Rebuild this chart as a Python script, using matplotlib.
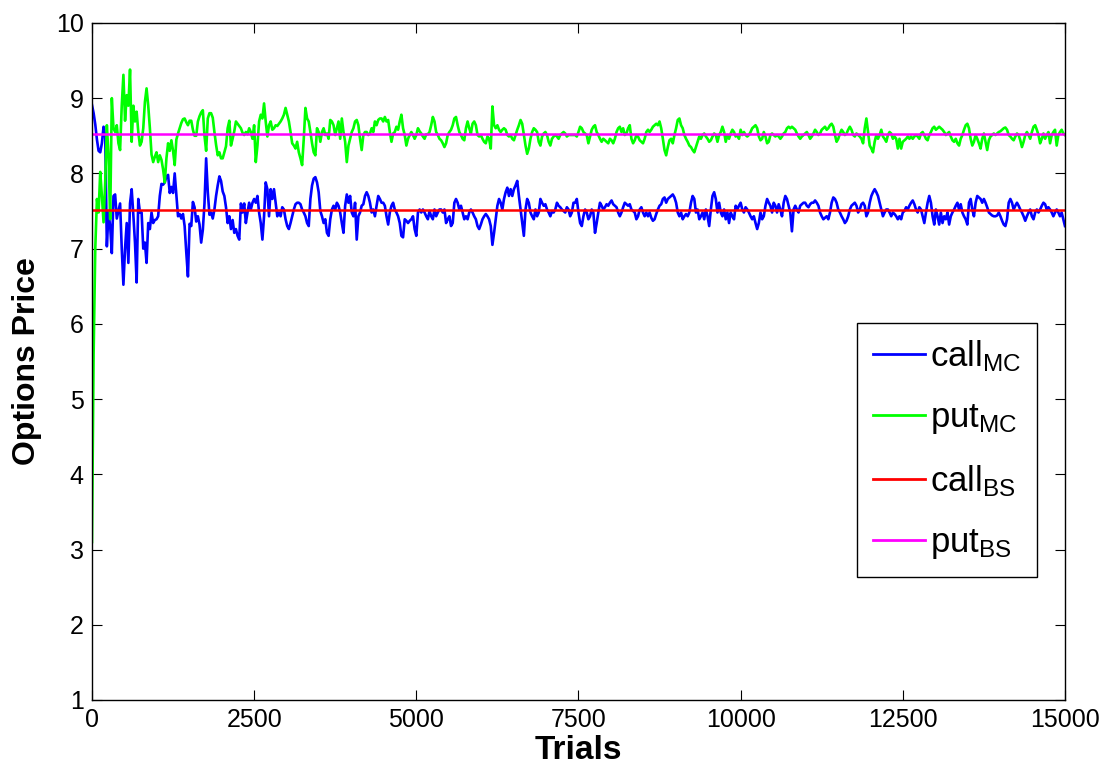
import numpy as np
import matplotlib
matplotlib.use("Agg")
import matplotlib.pyplot as plt

plt.rcParams['font.family'] = ['Liberation Sans', 'DejaVu Sans']
plt.rcParams['mathtext.fontset'] = 'custom'
plt.rcParams['mathtext.rm'] = 'Liberation Sans'
plt.rcParams['mathtext.it'] = 'Liberation Sans'

# Monte Carlo put estimates (sampled evenly over 0..15000 trials)
put_mc = [
    3.10, 5.60, 7.00, 7.66, 7.48, 8.02, 7.70, 7.35, 7.88, 8.64,
    8.24, 7.39, 9.00, 8.60, 8.55, 8.64, 8.40, 8.31, 8.90, 9.31,
    8.70, 9.04, 8.90, 9.38, 8.42, 8.90, 8.69, 8.82, 8.55, 8.37,
    8.42, 8.60, 8.95, 9.13, 8.90, 8.60, 8.25, 8.15, 8.22, 8.28,
    8.15, 8.24, 8.18, 8.05, 7.88, 8.20, 8.40, 8.30, 8.44, 8.30,
    8.11, 8.45, 8.53, 8.60, 8.67, 8.72, 8.73, 8.68, 8.64, 8.70,
    8.70, 8.58, 8.50, 8.50, 8.69, 8.76, 8.81, 8.84, 8.50, 8.30,
    8.73, 8.80, 8.80, 8.74, 8.55, 8.38, 8.24, 8.28, 8.20, 8.20,
    8.28, 8.36, 8.60, 8.70, 8.37, 8.46, 8.56, 8.69, 8.66, 8.63,
    8.60, 8.54, 8.51, 8.55, 8.52, 8.60,
    8.55, 8.46, 8.64, 8.15, 8.37, 8.69, 8.78, 8.73, 8.93, 8.69,
    8.49, 8.64, 8.69, 8.58, 8.60, 8.64, 8.63, 8.66, 8.69, 8.73,
    8.78, 8.87, 8.78, 8.69, 8.55, 8.40, 8.37, 8.33, 8.42, 8.28,
    8.20, 8.11, 8.46, 8.87, 8.73, 8.69, 8.55, 8.40, 8.28, 8.24,
    8.60, 8.55, 8.42, 8.55, 8.60, 8.51, 8.53, 8.46, 8.71, 8.69,
    8.64, 8.51, 8.60, 8.69, 8.46, 8.73, 8.55, 8.42, 8.15, 8.37,
    8.46, 8.55, 8.60, 8.69, 8.71, 8.64, 8.46, 8.31, 8.51, 8.55,
    8.55, 8.51, 8.53, 8.60, 8.55, 8.69, 8.64, 8.71, 8.73, 8.73,
    8.69, 8.75, 8.69, 8.71, 8.55, 8.42, 8.53, 8.55, 8.62, 8.58,
    8.69, 8.78, 8.60, 8.51, 8.37, 8.46, 8.51, 8.55,
    8.51, 8.46, 8.51, 8.60, 8.56, 8.53, 8.49, 8.46, 8.52, 8.52,
    8.55, 8.64, 8.75, 8.69, 8.55, 8.51, 8.46, 8.44, 8.40, 8.35,
    8.40, 8.51, 8.55, 8.58, 8.64, 8.73, 8.75, 8.64, 8.55, 8.51,
    8.46, 8.44, 8.60, 8.69, 8.60, 8.53, 8.66, 8.69, 8.64, 8.51,
    8.49, 8.51, 8.46, 8.42, 8.40, 8.49, 8.46, 8.33, 8.89, 8.64,
    8.60, 8.64, 8.58, 8.55, 8.58, 8.60, 8.58, 8.51, 8.49, 8.51,
    8.46, 8.44, 8.51, 8.58, 8.64, 8.71, 8.66, 8.51, 8.37, 8.26,
    8.33, 8.46, 8.55, 8.60, 8.58, 8.55, 8.42, 8.37, 8.49, 8.53,
    8.55, 8.51, 8.42, 8.37, 8.46, 8.49, 8.51, 8.49, 8.46, 8.51,
    8.53, 8.55, 8.53, 8.49, 8.51, 8.51, 8.51, 8.51,
    8.51, 8.49, 8.55, 8.62, 8.60, 8.55, 8.53, 8.51, 8.40, 8.49,
    8.58, 8.62, 8.64, 8.55, 8.51, 8.46, 8.42, 8.46, 8.44, 8.42,
    8.40, 8.46, 8.44, 8.40, 8.46, 8.55, 8.60, 8.62, 8.55, 8.60,
    8.51, 8.53, 8.60, 8.64, 8.46, 8.40, 8.44, 8.51, 8.49, 8.44,
    8.42, 8.40, 8.46, 8.55, 8.58, 8.55, 8.58, 8.62, 8.64, 8.66,
    8.64, 8.69, 8.60, 8.46, 8.31, 8.24, 8.35, 8.44, 8.46, 8.40,
    8.51, 8.60, 8.71, 8.73, 8.64, 8.60, 8.51, 8.46, 8.42, 8.37,
    8.35, 8.31, 8.28, 8.35, 8.42, 8.49, 8.46, 8.51, 8.53, 8.49,
    8.46, 8.42, 8.44, 8.49, 8.53, 8.51, 8.42, 8.51, 8.55, 8.62,
    8.55, 8.42, 8.51, 8.46, 8.53, 8.58, 8.55, 8.49,
    8.51, 8.46, 8.58, 8.51, 8.55, 8.51, 8.49, 8.51, 8.55, 8.60,
    8.62, 8.64, 8.60, 8.49, 8.44, 8.46, 8.55, 8.49, 8.40, 8.42,
    8.51, 8.53, 8.51, 8.49, 8.51, 8.49, 8.46, 8.49, 8.53, 8.55,
    8.60, 8.62, 8.60, 8.62, 8.60, 8.58, 8.53, 8.49, 8.46, 8.49,
    8.51, 8.53, 8.55, 8.51, 8.46, 8.49, 8.53, 8.58, 8.55, 8.51,
    8.53, 8.58, 8.60, 8.62, 8.58, 8.60, 8.64, 8.66, 8.62, 8.51,
    8.42, 8.46, 8.53, 8.58, 8.55, 8.51, 8.53, 8.58, 8.62, 8.58,
    8.51, 8.49, 8.53, 8.51, 8.49, 8.46, 8.40, 8.60, 8.73, 8.55,
    8.37, 8.33, 8.28, 8.42, 8.51, 8.46, 8.51, 8.58, 8.49, 8.46,
    8.42, 8.51, 8.55, 8.53, 8.46, 8.49, 8.46, 8.33,
    8.46, 8.33, 8.42, 8.44, 8.46, 8.49, 8.46, 8.49, 8.46, 8.49,
    8.51, 8.49, 8.46, 8.53, 8.55, 8.51, 8.46, 8.44, 8.51, 8.55,
    8.60, 8.62, 8.58, 8.60, 8.62, 8.60, 8.58, 8.55, 8.51, 8.53,
    8.55, 8.49, 8.44, 8.42, 8.46, 8.40, 8.37, 8.46, 8.51, 8.58,
    8.64, 8.66, 8.60, 8.46, 8.37, 8.42, 8.51, 8.46, 8.40, 8.33,
    8.46, 8.53, 8.42, 8.31, 8.44, 8.49, 8.51, 8.53, 8.51, 8.53,
    8.55, 8.56, 8.58, 8.60, 8.61, 8.58, 8.51, 8.49, 8.46, 8.44,
    8.49, 8.53, 8.51, 8.44, 8.35, 8.42, 8.51, 8.55, 8.51, 8.46,
    8.55, 8.62, 8.64, 8.58, 8.51, 8.40, 8.46, 8.53, 8.46, 8.51,
    8.55, 8.40, 8.51, 8.55, 8.58, 8.37, 8.51, 8.55, 8.58, 8.53, 8.51,
]

# Monte Carlo call estimates
call_mc = [
    8.91, 8.80, 8.65, 8.45, 8.30, 8.28, 8.40, 8.62, 8.50, 7.03,
    7.48, 7.30, 6.94, 7.70, 7.72, 7.40, 7.50, 7.60, 7.00, 6.52,
    7.00, 7.34, 6.81, 7.60, 7.79, 7.45, 7.08, 6.55, 7.66, 7.48,
    7.48, 7.00, 7.08, 6.81, 7.34, 7.26, 7.48, 7.34, 7.38, 7.39,
    7.43, 7.70, 7.86, 7.85, 7.88, 7.96, 7.98, 7.74, 7.82, 7.74,
    8.00, 7.72, 7.43, 7.46, 7.40, 7.46, 7.30, 6.95, 6.63, 7.33,
    7.30, 7.62, 7.55, 7.36, 7.43, 7.32, 7.08, 7.25, 7.60, 8.20,
    7.75, 7.45, 7.48, 7.40, 7.52, 7.70, 7.84, 7.96, 7.90, 7.76,
    7.70, 7.55, 7.34, 7.43, 7.26, 7.38, 7.21, 7.26, 7.17, 7.12,
    7.60, 7.48, 7.60, 7.34, 7.48, 7.61,
    7.52, 7.61, 7.66, 7.61, 7.70, 7.48, 7.34, 7.12, 7.43, 7.88,
    7.79, 7.43, 7.79, 7.66, 7.79, 7.61, 7.43, 7.48, 7.43, 7.55,
    7.52, 7.39, 7.30, 7.26, 7.34, 7.43, 7.52, 7.59, 7.61, 7.61,
    7.59, 7.52, 7.48, 7.43, 7.34, 7.30, 7.66, 7.84, 7.93, 7.95,
    7.88, 7.75, 7.50, 7.43, 7.34, 7.39, 7.21, 7.17, 7.39, 7.52,
    7.57, 7.52, 7.61, 7.57, 7.48, 7.34, 7.21, 7.57, 7.72, 7.61,
    7.70, 7.48, 7.43, 7.61, 7.12, 7.43, 7.48, 7.57, 7.59, 7.70,
    7.75, 7.70, 7.61, 7.48, 7.52, 7.43, 7.57, 7.70, 7.66, 7.61,
    7.61, 7.57, 7.43, 7.32, 7.48, 7.57, 7.61, 7.52, 7.48, 7.43,
    7.34, 7.17, 7.15, 7.39, 7.37, 7.34, 7.37, 7.39,
    7.43, 7.26, 7.17, 7.48, 7.52, 7.48, 7.52, 7.48, 7.43, 7.39,
    7.50, 7.43, 7.39, 7.52, 7.43, 7.48, 7.52, 7.52, 7.48, 7.52,
    7.34, 7.39, 7.43, 7.30, 7.34, 7.61, 7.66, 7.61, 7.52, 7.57,
    7.48, 7.39, 7.43, 7.39, 7.48, 7.52, 7.48, 7.43, 7.39, 7.30,
    7.26, 7.32, 7.39, 7.43, 7.46, 7.43, 7.39, 7.30, 7.05, 7.21,
    7.39, 7.57, 7.66, 7.61, 7.52, 7.66, 7.75, 7.81, 7.70, 7.79,
    7.70, 7.79, 7.84, 7.90, 7.70, 7.52, 7.34, 7.17, 7.52, 7.66,
    7.61, 7.48, 7.43, 7.39, 7.52, 7.43, 7.48, 7.66, 7.61, 7.57,
    7.59, 7.52, 7.48, 7.43, 7.50, 7.48, 7.52, 7.61, 7.57, 7.55,
    7.52, 7.50, 7.48, 7.55, 7.52, 7.43, 7.48, 7.61,
    7.61, 7.66, 7.48, 7.34, 7.30, 7.43, 7.52, 7.48, 7.39, 7.43,
    7.52, 7.48, 7.21, 7.34, 7.48, 7.61, 7.57, 7.52, 7.55, 7.59,
    7.57, 7.61, 7.64, 7.59, 7.57, 7.55, 7.48, 7.43, 7.48, 7.55,
    7.61, 7.59, 7.57, 7.59, 7.52, 7.50, 7.48, 7.39, 7.43, 7.52,
    7.55, 7.48, 7.43, 7.48, 7.43, 7.48, 7.41, 7.37, 7.39, 7.46,
    7.52, 7.57, 7.59, 7.66, 7.68, 7.61, 7.66, 7.68, 7.70, 7.72,
    7.68, 7.61, 7.48, 7.43, 7.48, 7.39, 7.43, 7.46, 7.43, 7.48,
    7.61, 7.70, 7.66, 7.48, 7.52, 7.39, 7.43, 7.48, 7.39, 7.52,
    7.43, 7.30, 7.52, 7.70, 7.75, 7.66, 7.48, 7.61, 7.48, 7.43,
    7.52, 7.39, 7.48, 7.34, 7.48, 7.43, 7.39, 7.57,
    7.52, 7.57, 7.61, 7.52, 7.48, 7.55, 7.52, 7.48, 7.43, 7.39,
    7.43, 7.34, 7.26, 7.34, 7.48, 7.39, 7.43, 7.57, 7.66, 7.61,
    7.57, 7.48, 7.61, 7.57, 7.48, 7.59, 7.52, 7.43, 7.61, 7.70,
    7.66, 7.57, 7.48, 7.23, 7.52, 7.57, 7.52, 7.48, 7.57, 7.59,
    7.61, 7.61, 7.57, 7.55, 7.59, 7.61, 7.61, 7.64, 7.61, 7.57,
    7.48, 7.43, 7.39, 7.41, 7.43, 7.39, 7.48, 7.61, 7.68, 7.66,
    7.61, 7.52, 7.48, 7.43, 7.39, 7.34, 7.37, 7.43, 7.52, 7.57,
    7.59, 7.61, 7.57, 7.48, 7.52, 7.59, 7.61, 7.57, 7.43, 7.48,
    7.61, 7.70, 7.75, 7.79, 7.75, 7.70, 7.61, 7.52, 7.43, 7.48,
    7.52, 7.52, 7.48, 7.43, 7.48, 7.46, 7.43, 7.39,
    7.43, 7.39, 7.48, 7.50, 7.55, 7.52, 7.57, 7.61, 7.64, 7.59,
    7.52, 7.48, 7.55, 7.52, 7.43, 7.34, 7.48, 7.61, 7.70, 7.61,
    7.43, 7.32, 7.52, 7.43, 7.32, 7.48, 7.34, 7.43, 7.39, 7.48,
    7.32, 7.43, 7.48, 7.52, 7.57, 7.61, 7.52, 7.59, 7.48, 7.43,
    7.39, 7.32, 7.61, 7.66, 7.52, 7.43, 7.61, 7.70, 7.68, 7.66,
    7.61, 7.66, 7.61, 7.55, 7.48, 7.46, 7.44, 7.43, 7.43, 7.44,
    7.48, 7.43, 7.37, 7.32, 7.30, 7.39, 7.61, 7.66, 7.61, 7.52,
    7.57, 7.61, 7.57, 7.52, 7.48, 7.43, 7.37, 7.43, 7.48, 7.52,
    7.43, 7.39, 7.48, 7.52, 7.48, 7.52, 7.57, 7.61, 7.59, 7.52,
    7.55, 7.52, 7.48, 7.43, 7.48, 7.52, 7.48, 7.43, 7.48, 7.39, 7.30,
]

call_bs = 7.51
put_bs = 8.52
max_trials = 15000
x_ticks = [0, 2500, 5000, 7500, 10000, 12500, 15000]
y_ticks = [1, 2, 3, 4, 5, 6, 7, 8, 9, 10]
labels = [r'call$_{\mathrm{MC}}$', r'put$_{\mathrm{MC}}$',
          r'call$_{\mathrm{BS}}$', r'put$_{\mathrm{BS}}$']

trials_call = np.linspace(0, max_trials, len(call_mc))
trials_put = np.linspace(0, max_trials, len(put_mc))

fig = plt.figure(figsize=(11.12, 7.77), dpi=100)
ax = fig.add_axes([0.0827, 0.0991, 0.8750, 0.8714])

ax.plot(trials_call, call_mc, color='#0000ff', lw=1.9, label=labels[0])
ax.plot(trials_put, put_mc, color='#00ff00', lw=1.9, label=labels[1])
ax.plot([0, max_trials], [call_bs, call_bs], color='#ff0000', lw=1.8, label=labels[2])
ax.plot([0, max_trials], [put_bs, put_bs], color='#ff00ff', lw=1.8, label=labels[3])

ax.set_xlim(0, max_trials)
ax.set_ylim(1, 10)
ax.set_xticks(x_ticks)
ax.set_xticklabels([str(t) for t in x_ticks])
ax.set_yticks(y_ticks)
ax.set_yticklabels([str(t) for t in y_ticks])
ax.tick_params(direction='in', length=7, width=0.8, top=True, right=True,
               labelsize=18, colors='black', pad=6)
for s in ax.spines.values():
    s.set_linewidth(1.0)
    s.set_color('black')

ax.set_xlabel('Trials', fontsize=24, fontweight='bold', labelpad=2)
ax.set_ylabel('Options Price', fontsize=23, fontweight='bold', labelpad=10)

leg = ax.legend(loc='upper right', bbox_to_anchor=(0.971, 0.557),
                borderaxespad=0, fontsize=25, handlelength=1.5,
                handletextpad=0.15, labelspacing=0.78, borderpad=0.45,
                fancybox=False, framealpha=1, edgecolor='black')
leg.get_frame().set_linewidth(1.0)
for line in leg.get_lines():
    line.set_linewidth(2.0)

fig.savefig('out.png', dpi=100, facecolor='white')
